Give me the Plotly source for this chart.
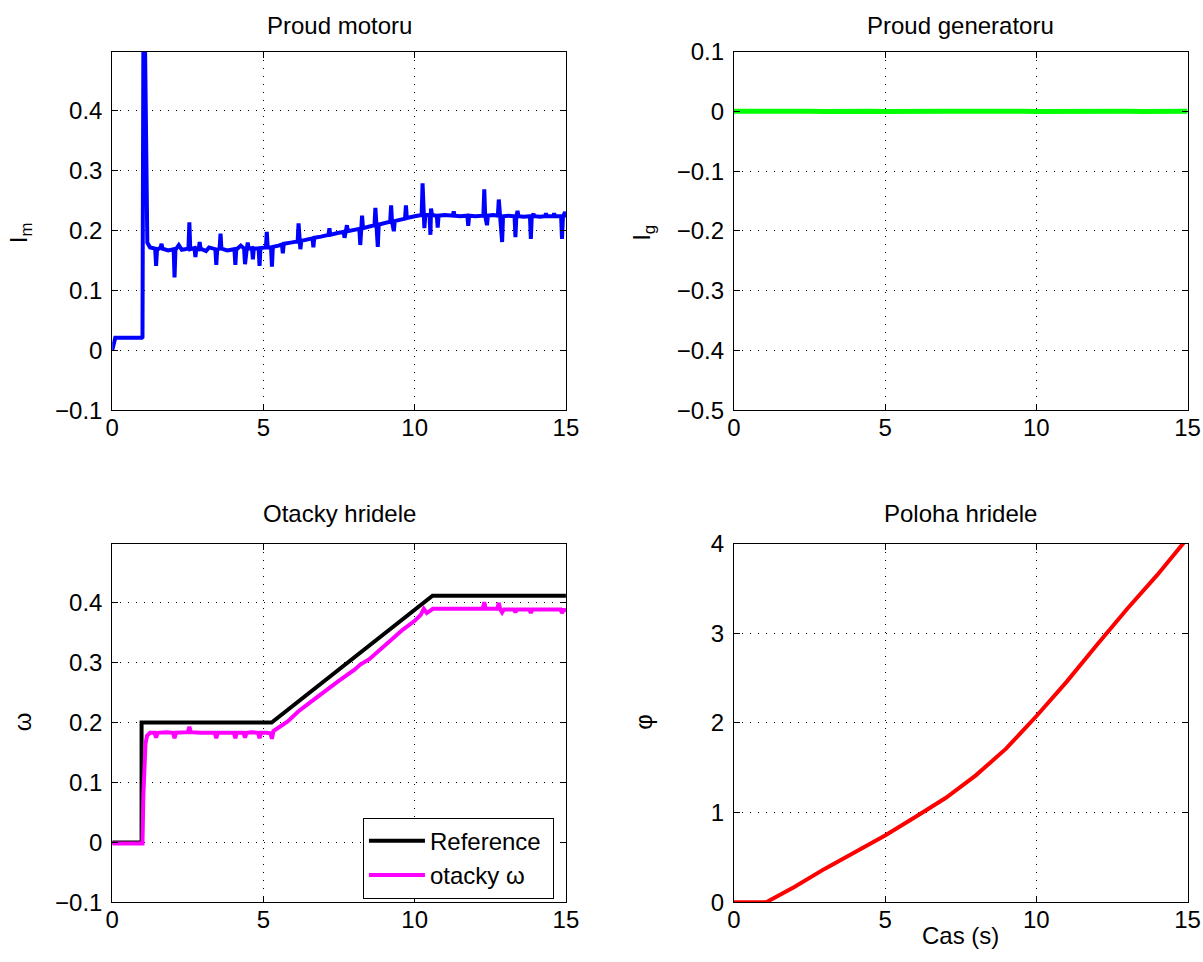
import plotly.graph_objects as go

# ---------------- data ----------------
# Proud motoru (motor current)
t_im = [0.00, 0.10, 0.98, 1.00, 1.04, 1.08, 1.12, 1.16, 1.25,
        1.42, 1.45, 1.48, 1.60, 1.63, 1.66, 1.85,
        2.03, 2.06, 2.09, 2.20, 2.30,
        2.52, 2.55, 2.58, 2.72, 2.75, 2.78, 2.86, 2.89, 2.92, 3.10, 3.20,
        3.41, 3.44, 3.47, 3.55, 3.58, 3.61, 3.80,
        4.04, 4.07, 4.10, 4.25, 4.36, 4.39, 4.42, 4.45, 4.48, 4.51,
        4.62, 4.65, 4.68, 4.84, 4.87, 4.90,
        5.08, 5.11, 5.14, 5.25, 5.28, 5.31, 5.50,
        5.61, 5.64, 5.67, 5.90, 6.13, 6.16, 6.19, 6.22, 6.25, 6.45,
        6.62, 6.65, 6.68, 6.90, 7.15, 7.18, 7.21, 7.45,
        7.65, 7.68, 7.71, 7.76, 7.79, 8.00,
        8.17, 8.20, 8.23, 8.26, 8.29, 8.50,
        8.67, 8.70, 8.73, 8.78, 8.81, 9.00,
        9.19, 9.22, 9.25, 9.31, 9.34, 9.50,
        9.68, 9.71, 9.74, 10.00,
        10.23, 10.26, 10.29, 10.32, 10.35,
        10.49, 10.52, 10.54, 10.57, 10.73, 10.76, 10.79, 11.00,
        11.26, 11.29, 11.32, 11.50, 11.74, 11.77, 11.80, 12.00,
        12.27, 12.30, 12.33, 12.39, 12.42, 12.60,
        12.75, 12.78, 12.81, 12.89, 12.92, 13.10,
        13.30, 13.33, 13.36, 13.40, 13.43, 13.60,
        13.81, 13.84, 13.87, 13.93, 13.96, 14.15,
        14.31, 14.34, 14.37, 14.50, 14.58, 14.61, 14.64,
        14.84, 14.87, 14.90, 14.97, 15.00]
im = [0.000, 0.021, 0.021, 0.022, 0.700, 0.500, 0.260, 0.180, 0.172,
      0.170, 0.141, 0.168, 0.172, 0.178, 0.170, 0.167,
      0.169, 0.122, 0.168, 0.176, 0.168,
      0.170, 0.214, 0.169, 0.171, 0.156, 0.170, 0.169, 0.181, 0.170, 0.166, 0.172,
      0.169, 0.143, 0.168, 0.170, 0.195, 0.170, 0.167,
      0.169, 0.143, 0.168, 0.175, 0.170, 0.144, 0.169, 0.170, 0.180, 0.170,
      0.171, 0.152, 0.170, 0.170, 0.141, 0.171,
      0.172, 0.198, 0.172, 0.172, 0.140, 0.173, 0.175,
      0.177, 0.162, 0.178, 0.180, 0.182, 0.212, 0.183, 0.169, 0.183, 0.185,
      0.187, 0.172, 0.188, 0.190, 0.193, 0.204, 0.193, 0.196,
      0.198, 0.188, 0.199, 0.209, 0.199, 0.201,
      0.203, 0.176, 0.204, 0.225, 0.204, 0.207,
      0.209, 0.238, 0.210, 0.173, 0.210, 0.213,
      0.215, 0.242, 0.215, 0.199, 0.216, 0.218,
      0.220, 0.242, 0.221, 0.224,
      0.226, 0.279, 0.226, 0.204, 0.226,
      0.226, 0.193, 0.237, 0.226, 0.225, 0.205, 0.225, 0.226,
      0.225, 0.232, 0.225, 0.224, 0.225, 0.208, 0.225, 0.224,
      0.225, 0.269, 0.225, 0.209, 0.225, 0.226,
      0.225, 0.252, 0.225, 0.181, 0.224, 0.225,
      0.224, 0.189, 0.224, 0.233, 0.224, 0.223,
      0.224, 0.186, 0.224, 0.228, 0.224, 0.223,
      0.224, 0.229, 0.224, 0.223, 0.224, 0.229, 0.224,
      0.224, 0.186, 0.223, 0.231, 0.222]

# Proud generatoru (generator current)
t_ig = [0.0, 0.5, 1.0, 1.5, 2.0, 2.5, 3.0, 3.5, 4.0, 4.5, 5.0, 5.5, 6.0, 6.5, 7.0, 7.5,
        8.0, 8.5, 9.0, 9.5, 10.0, 10.5, 11.0, 11.5, 12.0, 12.5, 13.0, 13.5, 14.0, 14.5, 15.0]
ig = [0.0000, 0.0004, -0.0003, 0.0002, 0.0004, 0.0000, -0.0003, 0.0004, 0.0000,
      0.0003, -0.0002, 0.0004, 0.0000, -0.0003, 0.0003, 0.0000, 0.0004, -0.0003,
      0.0000, 0.0003, -0.0004, 0.0000, 0.0003, -0.0002, 0.0000, 0.0004, 0.0000,
      -0.0002, 0.0003, 0.0000, 0.0000]

# Otacky hridele (shaft speed)
t_ref = [0.0, 0.97, 0.97, 5.27, 10.59, 15.0]
w_ref = [0.0, 0.0, 0.200, 0.200, 0.412, 0.412]

t_w = [0.0, 0.5, 1.0, 1.03, 1.06, 1.10, 1.15, 1.25,
       1.40, 1.45, 1.50, 1.80, 2.01, 2.06, 2.11, 2.40, 2.50, 2.55, 2.60, 2.90,
       3.39, 3.44, 3.49, 4.02, 4.07, 4.12, 4.34, 4.39, 4.44, 4.60, 4.82, 4.87,
       4.92, 5.10, 5.23, 5.28, 5.33,
       5.80, 6.16, 6.50, 7.00, 7.50, 8.00, 8.20, 8.50, 8.80, 9.20, 9.60,
       10.00, 10.20, 10.30, 10.40, 10.60, 11.00, 11.50, 12.00, 12.25, 12.30,
       12.35, 12.73, 12.78, 12.83, 12.89, 12.95, 13.28, 13.33, 13.38, 13.79,
       13.84, 13.89, 14.30, 14.82, 14.87, 14.92, 15.00]
w = [-0.002, -0.002, -0.002, 0.080, 0.140, 0.165, 0.178, 0.183,
     0.183, 0.175, 0.183, 0.184, 0.183, 0.174, 0.183, 0.184, 0.184, 0.193, 0.184,
     0.183, 0.183, 0.174, 0.183, 0.183, 0.174, 0.183, 0.183, 0.175, 0.183, 0.184,
     0.183, 0.174, 0.183, 0.183, 0.182, 0.173, 0.186,
     0.202, 0.219, 0.232, 0.252, 0.270, 0.288, 0.297, 0.306, 0.320, 0.337, 0.355,
     0.370, 0.380, 0.390, 0.383, 0.390, 0.390, 0.390, 0.390, 0.390, 0.401,
     0.390, 0.390, 0.400, 0.389, 0.384, 0.389, 0.389, 0.384, 0.389, 0.389,
     0.383, 0.389, 0.389, 0.389, 0.383, 0.388, 0.388]

# Poloha hridele (shaft position)
t_phi = [0.0, 1.07, 2.0, 3.0, 4.0, 5.0, 6.0, 7.0, 8.0, 9.0, 10.0, 11.0, 12.0, 13.0, 14.0, 15.0]
phi = [0.0, 0.0, 0.170, 0.372, 0.558, 0.745, 0.950, 1.162, 1.415, 1.713, 2.074,
       2.458, 2.868, 3.270, 3.650, 4.060]

# ---------------- figure ----------------
W, H = 1203, 962
FONT = "Liberation Sans, Arial, Helvetica, sans-serif"
FS = 24

# observed placement of the drawn figure in the captured picture
SX, CX = 0.984, 5.7
SY, CY = 0.970, 13.5


def px_x(p):
    return ((p - CX) / SX) / W


def px_y(p):
    return 1 - ((p - CY) / SY) / H


xl = [px_x(111), px_x(565)]
xr = [px_x(733), px_x(1187)]
yt = [px_y(409), px_y(51)]
yb = [px_y(900), px_y(542)]

fig = go.Figure()
fig.add_trace(go.Scatter(x=t_im, y=im, mode="lines", line=dict(color="#0000ff", width=4),
                         xaxis="x", yaxis="y", showlegend=False))
fig.add_trace(go.Scatter(x=t_ig, y=ig, mode="lines", line=dict(color="#00ff00", width=5),
                         xaxis="x2", yaxis="y2", showlegend=False))
fig.add_trace(go.Scatter(x=t_ref, y=w_ref, mode="lines", name="Reference\u00a0",
                         line=dict(color="#000000", width=4), xaxis="x3", yaxis="y3"))
fig.add_trace(go.Scatter(x=t_w, y=w, mode="lines", name="otacky ω",
                         line=dict(color="#ff00ff", width=4), xaxis="x3", yaxis="y3"))
fig.add_trace(go.Scatter(x=t_phi, y=phi, mode="lines", line=dict(color="#ff0000", width=4),
                         xaxis="x4", yaxis="y4", showlegend=False))

common = dict(showline=True, linecolor="black", linewidth=1, mirror="ticks",
              ticks="inside", ticklen=6, tickcolor="black", tickwidth=1,
              showgrid=True, gridcolor="black", gridwidth=1, griddash="1px,7px",
              zeroline=False, tickfont=dict(family=FONT, size=FS, color="black"),
              fixedrange=True)

xcommon = dict(common, range=[0, 15], tick0=0, dtick=5, ticklabelstandoff=-4)
ycommon = dict(common, ticklabelstandoff=4)

fig.update_layout(
    width=W, height=H,
    margin=dict(l=0, r=0, t=0, b=0),
    paper_bgcolor="white", plot_bgcolor="white",
    font=dict(family=FONT, size=FS, color="black"),
    xaxis=dict(xcommon, domain=xl, anchor="y"),
    yaxis=dict(ycommon, domain=yt, anchor="x", range=[-0.1, 0.499], tick0=0, dtick=0.1),
    xaxis2=dict(xcommon, domain=xr, anchor="y2"),
    yaxis2=dict(ycommon, domain=yt, anchor="x2", range=[-0.5, 0.1], tick0=0, dtick=0.1),
    xaxis3=dict(xcommon, domain=xl, anchor="y3"),
    yaxis3=dict(ycommon, domain=yb, anchor="x3", range=[-0.1, 0.499], tick0=0, dtick=0.1),
    xaxis4=dict(xcommon, domain=xr, anchor="y4"),
    yaxis4=dict(ycommon, domain=yb, anchor="x4", range=[0, 4], tick0=0, dtick=1),
    legend=dict(x=px_x(553), y=px_y(856), xanchor="right", yanchor="middle",
                bgcolor="white", bordercolor="black", borderwidth=1,
                font=dict(family=FONT, size=FS, color="black"),
                tracegroupgap=0, itemwidth=56),
)


def ann(text, x, y, angle=0, fy=None):
    fig.add_annotation(text=text, x=px_x(x), y=(px_y(y) if fy is None else fy),
                       xref="paper", yref="paper",
                       showarrow=False, xanchor="center", yanchor="middle",
                       textangle=angle, font=dict(family=FONT, size=FS, color="black"))


ann("Proud motoru", 338, 25)
ann("Proud generatoru", 960, 25)
ann("Otacky hridele", 338, 512)
ann("Poloha hridele", 960, 512)
ann("I<sub>m</sub>", 20, 232, -90)
ann("I<sub>g</sub>", 643, 232, -90)
ann("ω", 22, 720, -90)
ann("φ", 643, 720, -90)
ann("Cas (s)", 960, 943, fy=1 - 948 / H)

fig.write_html("out.html")
